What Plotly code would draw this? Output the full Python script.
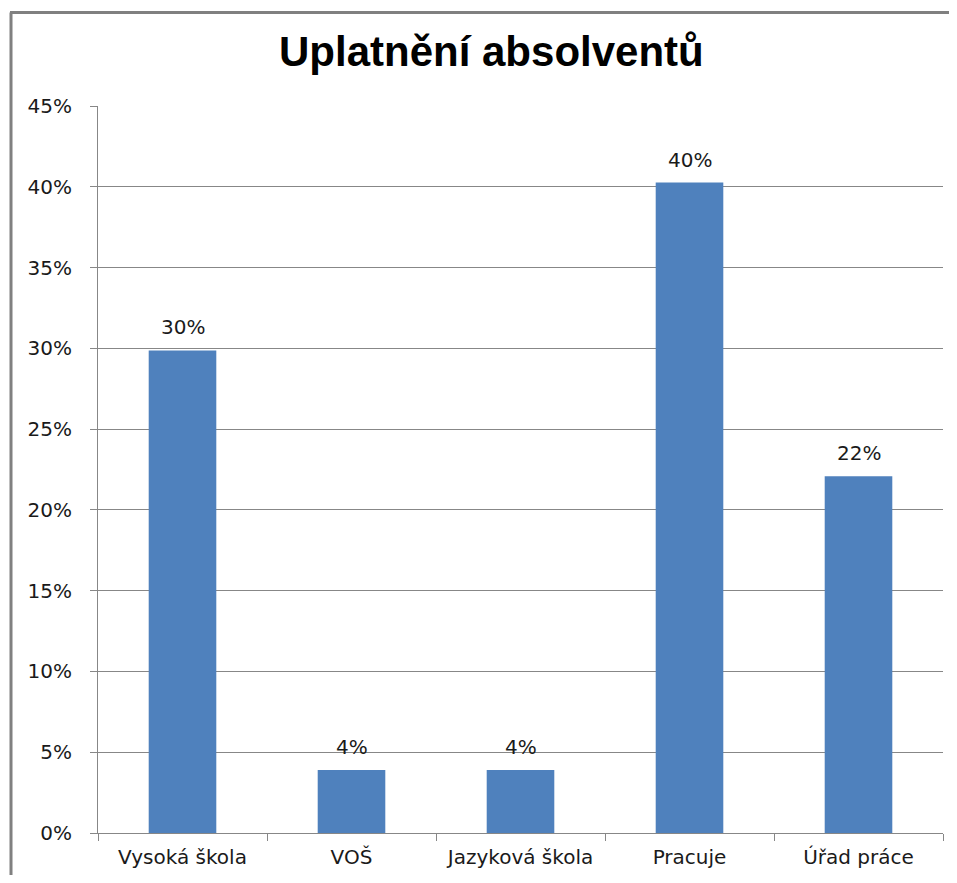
import plotly.graph_objects as go

categories = ["Vysoká škola", "VOŠ", "Jazyková škola", "Pracuje", "Úřad práce"]
values = [0.2987, 0.039, 0.039, 0.4026, 0.2208]
y_ticks = [0, 0.05, 0.10, 0.15, 0.20, 0.25, 0.30, 0.35, 0.40, 0.45]

# page is rendered with an 8px body margin on every side
OFF = 8
W, H = 957 - 2 * OFF, 883 - 2 * OFF
L, T = 98 - OFF, 106 - OFF
R = W - (943 - OFF)
B = H - (837 - OFF)
pw, ph = W - L - R, H - T - B

def px_x(p):
    return (p - OFF - L) / pw

def px_y(p):
    return (H - B - (p - OFF)) / ph

font = "DejaVu Sans"
grid = "#878787"
txt = "#1a1a1a"
border = "#808080"

fig = go.Figure(go.Bar(
    x=categories, y=values,
    marker=dict(color="#4F81BD", line=dict(width=0)),
    hoverinfo="x+y",
))

labels = [dict(
    x=c, y=v, xref="x", yref="y", text=f"{v:.0%}", showarrow=False,
    xanchor="center", yanchor="bottom", yshift=9,
    font=dict(family=font, size=20, color=txt),
) for c, v in zip(categories, values)]

fig.update_layout(
    width=W, height=H,
    margin=dict(l=L, r=R, t=T, b=B, pad=0),
    paper_bgcolor="white", plot_bgcolor="white",
    bargap=0.6,
    showlegend=False,
    font=dict(family=font, size=20, color=txt),
    xaxis=dict(
        type="category", showline=True, linecolor=grid, linewidth=1,
        ticks="outside", tickson="boundaries", ticklen=7, tickcolor=grid,
        showgrid=False, tickfont=dict(size=20, family=font, color=txt),
        ticklabelstandoff=6,
    ),
    yaxis=dict(
        range=[0, 0.45], tickvals=y_ticks, tickformat=".0%",
        showline=True, linecolor=grid, linewidth=1,
        ticks="outside", ticklen=7, tickcolor=grid,
        showgrid=True, gridcolor=grid, gridwidth=1,
        zeroline=False, tickfont=dict(size=20, family=font, color=txt),
        ticklabelstandoff=14,
    ),
    annotations=labels + [dict(
        text="<b>Uplatnění absolventů</b>", xref="paper", yref="paper",
        x=px_x(491), y=px_y(51), xanchor="center", yanchor="middle",
        showarrow=False, font=dict(family="Liberation Sans", size=42, color="#000000"),
    )],
    shapes=[
        dict(type="line", xref="paper", yref="paper", layer="below",
             x0=px_x(11), x1=px_x(11), y0=px_y(900), y1=px_y(12),
             line=dict(color=border, width=3)),
        dict(type="line", xref="paper", yref="paper", layer="below",
             x0=px_x(10), x1=px_x(990), y0=px_y(12), y1=px_y(12),
             line=dict(color=border, width=3)),
    ],
)

fig.write_html("out.html")
